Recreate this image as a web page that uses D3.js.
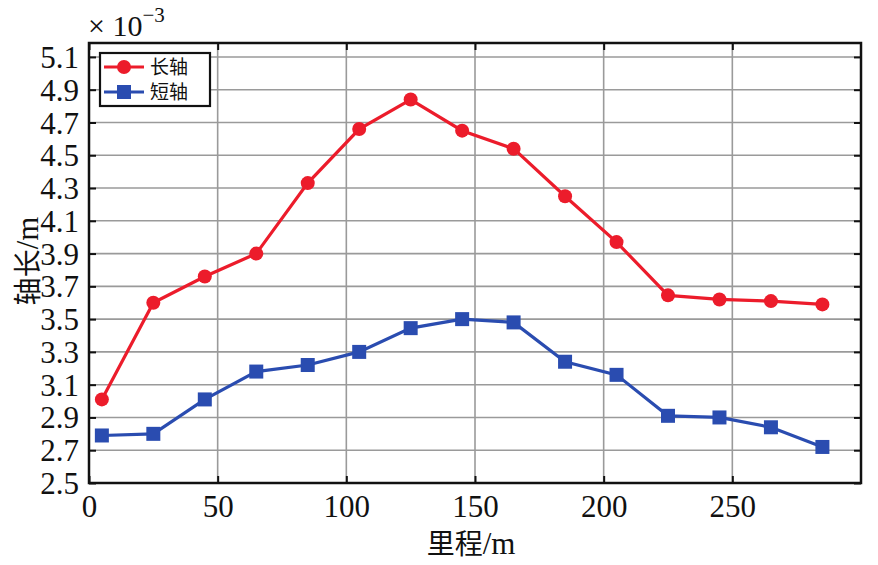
<!DOCTYPE html>
<html>
<head>
<meta charset="utf-8">
<script src="https://cdn.jsdelivr.net/npm/d3@7"></script>
<style>
  body { margin: 0; background: #fff; }
</style>
</head>
<body>
<div id="chart"></div>
<script>
// 数据（单位：×10^-3 m）
const mileage = [5, 25, 45, 65, 85, 105, 125, 145, 165, 185, 205, 225, 245, 265, 285];
const longAxis = [3.01, 3.60, 3.76, 3.90, 4.33, 4.66, 4.84, 4.65, 4.54, 4.25, 3.97, 3.645, 3.62, 3.61, 3.59];
const shortAxis = [2.79, 2.80, 3.01, 3.18, 3.22, 3.30, 3.445, 3.50, 3.48, 3.24, 3.16, 2.91, 2.90, 2.84, 2.72];
const xTicks = [0, 50, 100, 150, 200, 250];
const yTicks = [2.5, 2.7, 2.9, 3.1, 3.3, 3.5, 3.7, 3.9, 4.1, 4.3, 4.5, 4.7, 4.9, 5.1];
const seriesNames = ["长轴", "短轴"];

const W = 878, H = 565;
const margin = {top: 43, right: 17, bottom: 82, left: 89};
const width = W - margin.left - margin.right;
const height = H - margin.top - margin.bottom;

const serif = "'Liberation Serif', 'DejaVu Serif', serif";
const cjk = "'Noto Sans CJK SC', sans-serif";
const red = "#ec1c2b";
const blue = "#2a4cb0";

const svg = d3.select("#chart").append("svg")
    .attr("width", W).attr("height", H);
const g = svg.append("g")
    .attr("transform", "translate(" + margin.left + "," + margin.top + ")");

const x = d3.scaleLinear().domain([0, 300]).range([0, width]);
const y = d3.scaleLinear().domain([2.5, 5.185]).range([height, 0]);

// 网格
g.selectAll(".vgrid").data(xTicks.slice(1)).enter().append("line")
    .attr("x1", d => x(d)).attr("x2", d => x(d))
    .attr("y1", 0).attr("y2", height)
    .attr("stroke", "#9a9a9a").attr("stroke-width", 1.6);
g.selectAll(".hgrid").data(yTicks.slice(1)).enter().append("line")
    .attr("x1", 0).attr("x2", width)
    .attr("y1", d => y(d)).attr("y2", d => y(d))
    .attr("stroke", "#9a9a9a").attr("stroke-width", 1.6);

// 坐标轴（刻度向内）
const fmt = d3.format(".1f");
const axisB = g.append("g").attr("transform", "translate(0," + height + ")")
    .call(d3.axisBottom(x).tickValues(xTicks).tickSize(-7).tickPadding(12));
const axisT = g.append("g")
    .call(d3.axisTop(x).tickValues(xTicks).tickSize(-7).tickFormat(""));
const axisL = g.append("g")
    .call(d3.axisLeft(y).tickValues(yTicks).tickSize(-7).tickPadding(10).tickFormat(fmt));
const axisR = g.append("g").attr("transform", "translate(" + width + ",0)")
    .call(d3.axisRight(y).tickValues(yTicks).tickSize(-7).tickFormat(""));

[axisB, axisT, axisL, axisR].forEach(a => {
    a.attr("font-family", null);
    a.select(".domain").remove();
    a.selectAll(".tick line").attr("stroke", "#111").attr("stroke-width", 2);
    a.selectAll(".tick text")
        .style("font-family", serif)
        .attr("font-size", 31).attr("fill", "#111");
});
axisL.selectAll(".tick text").attr("dy", "0.34em");

// 边框
g.append("rect").attr("x", 0).attr("y", 0)
    .attr("width", width).attr("height", height)
    .attr("fill", "none").attr("stroke", "#111").attr("stroke-width", 2.5);

// 折线
const line = d3.line().x(d => x(d[0])).y(d => y(d[1]));
const longData = mileage.map((m, i) => [m, longAxis[i]]);
const shortData = mileage.map((m, i) => [m, shortAxis[i]]);

g.append("path").datum(longData).attr("d", line)
    .attr("fill", "none").attr("stroke", red).attr("stroke-width", 3.2);
g.selectAll(".pt-long").data(longData).enter().append("circle")
    .attr("cx", d => x(d[0])).attr("cy", d => y(d[1])).attr("r", 7)
    .attr("fill", red);

g.append("path").datum(shortData).attr("d", line)
    .attr("fill", "none").attr("stroke", blue).attr("stroke-width", 3.2);
g.selectAll(".pt-short").data(shortData).enter().append("rect")
    .attr("x", d => x(d[0]) - 7).attr("y", d => y(d[1]) - 7)
    .attr("width", 14).attr("height", 14)
    .attr("fill", blue);

// 图例
const legend = g.append("g").attr("transform", "translate(11,10)");
legend.append("rect").attr("width", 110).attr("height", 53)
    .attr("fill", "#fff").attr("stroke", "#111").attr("stroke-width", 2.2);
[red, blue].forEach((c, i) => {
    const cy = 14 + i * 25;
    legend.append("line").attr("x1", 4).attr("x2", 44)
        .attr("y1", cy).attr("y2", cy)
        .attr("stroke", c).attr("stroke-width", 3.2);
    if (i === 0) {
        legend.append("circle").attr("cx", 24).attr("cy", cy).attr("r", 7).attr("fill", c);
    } else {
        legend.append("rect").attr("x", 17).attr("y", cy - 7)
            .attr("width", 14).attr("height", 14).attr("fill", c);
    }
    legend.append("text").attr("x", 50).attr("y", cy + 7)
        .style("font-family", cjk).attr("font-size", 19).attr("fill", "#111")
        .text(seriesNames[i]);
});

// 轴标题
const xt = svg.append("text")
    .attr("x", margin.left + width / 2 - 4).attr("y", 554)
    .attr("text-anchor", "middle").attr("font-size", 28).attr("fill", "#111");
xt.append("tspan").style("font-family", cjk).text("里程");
xt.append("tspan").style("font-family", serif).attr("font-size", 31).text("/m");

const yt = svg.append("text")
    .attr("transform", "translate(38," + (margin.top + height / 2 - 2) + ") rotate(-90)")
    .attr("text-anchor", "middle").attr("font-size", 28).attr("fill", "#111");
yt.append("tspan").style("font-family", cjk).text("轴长");
yt.append("tspan").style("font-family", serif).attr("font-size", 31).text("/m");

// 量级标注 ×10^-3
const mag = svg.append("text")
    .attr("x", 88).attr("y", 36)
    .style("font-family", serif).attr("font-size", 30).attr("fill", "#111");
mag.append("tspan").text("× 10");
mag.append("tspan").attr("dy", -14).attr("font-size", 21).text("−3");
</script>
</body>
</html>
